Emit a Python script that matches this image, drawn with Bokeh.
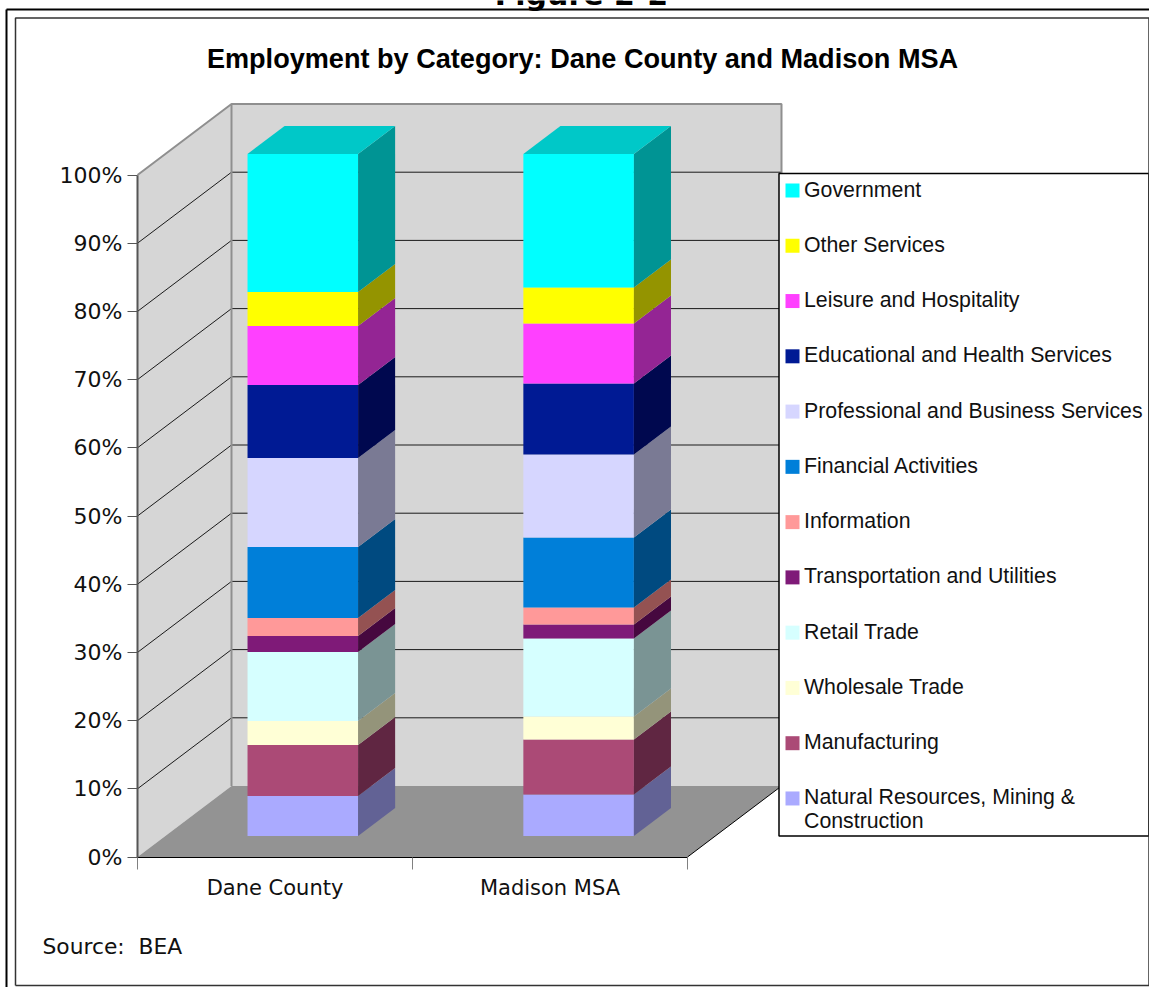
from bokeh.core.properties import value
from bokeh.embed import file_html
from bokeh.models import FixedTicker, Range1d
from bokeh.plotting import figure
from bokeh.resources import INLINE

# ---- data ----
categories = ["Dane County", "Madison MSA"]
series = ["Natural Resources, Mining &\nConstruction", "Manufacturing", "Wholesale Trade", "Retail Trade",
          "Transportation and Utilities", "Information", "Financial Activities",
          "Professional and Business Services", "Educational and Health Services",
          "Leisure and Hospitality", "Other Services", "Government"]
dane_values = [5.87, 7.48, 3.52, 10.12, 2.35, 2.64, 10.41, 13.05, 10.70, 8.65, 4.99, 20.22]
madison_values = [6.09, 8.06, 3.37, 11.44, 2.05, 2.49, 10.26, 12.17, 10.41, 8.80, 5.28, 19.58]
front_colors = ["#AAAAFF", "#AB4A76", "#FFFFD6", "#D6FFFF", "#7F1A78", "#FF9999",
                "#007FD9", "#D6D6FF", "#001A94", "#FF40FF", "#FFFF00", "#00FFFF"]
side_colors = ["#626295", "#602642", "#94947A", "#7A9494", "#46083F", "#945252",
               "#004A80", "#7A7A94", "#00084F", "#942594", "#949400", "#009494"]
top_color = "#00C8C8"
y_ticks = [0, 10, 20, 30, 40, 50, 60, 70, 80, 90, 100]
y_tick_labels = {t: f"{t}%" for t in y_ticks}
title = "Employment by Category: Dane County and Madison MSA"
source_note = "Source:\u00a0\u00a0BEA"
page_heading = "Figure 2-2"

# ---- layout ----
W, H = 1149, 987
X0, PX_PER_CAT = 137.0, 275.0
Y0, PX_PER_PCT = 856.5, 6.82
DEPTH_X, DEPTH_Y = 94.0, 71.0
BAR_CENTERS = [0.5, 1.503]
BAR_WIDTH = 0.402
BAR_D0, BAR_D1 = 21 / 71, 49 / 71


def xd(px):
    return (px - X0) / PX_PER_CAT


def yd(py):
    return (Y0 - py) / PX_PER_PCT


ddx = DEPTH_X / PX_PER_CAT
ddy = DEPTH_Y / PX_PER_PCT

p = figure(width=W, height=H, output_backend="svg", toolbar_location=None,
           x_range=Range1d(xd(0), xd(W)), y_range=Range1d(yd(H), yd(0)),
           min_border=0, min_border_left=0, min_border_right=0, min_border_top=0, min_border_bottom=0)
p.styles = {"position": "absolute", "left": "0px", "top": "0px"}
p.outline_line_color = None
p.grid.visible = False
p.background_fill_color = "white"
p.border_fill_color = "white"

# walls and floor
GRAY_EDGE = "#8F8F8F"
p.patch([0, ddx, ddx, 0], [0, ddy, 100 + ddy, 100], fill_color="#D6D6D6", line_color=None)
p.patch([ddx, 2 + ddx, 2 + ddx, ddx], [ddy, ddy, 100 + ddy, 100 + ddy], fill_color="#D6D6D6", line_color=None)
p.patch([0, 2, 2 + ddx, ddx], [0, 0, ddy, ddy], fill_color="#939393", line_color=None)

# gridlines
for t in y_ticks[1:-1]:
    p.line([0, ddx, 2 + ddx], [t, t + ddy, t + ddy], line_color="#1A1A1A", line_width=1)
p.line([0, ddx, 2 + ddx, 2 + ddx], [100, 100 + ddy, 100 + ddy, ddy], line_color=GRAY_EDGE, line_width=2)
p.line([ddx, ddx], [ddy, 100 + ddy], line_color=GRAY_EDGE, line_width=2)
p.line([2, 2 + ddx], [0, ddy], line_color="black", line_width=1)

# bars
for center, vals in zip(BAR_CENTERS, [dane_values, madison_values]):
    l = center - BAR_WIDTH / 2 + BAR_D0 * ddx
    r = l + BAR_WIDTH
    sx = (BAR_D1 - BAR_D0) * ddx
    sy = (BAR_D1 - BAR_D0) * ddy
    base = BAR_D0 * ddy
    for v, fc, sc in zip(vals, front_colors, side_colors):
        top = base + v
        p.quad(left=[l], right=[r], bottom=[base], top=[top], fill_color=fc, line_color=None)
        p.patch([r, r + sx, r + sx, r], [base, base + sy, top + sy, top], fill_color=sc, line_color=None)
        base = top
    p.patch([l, r, r + sx, l + sx], [base, base, base + sy, base + sy], fill_color=top_color, line_color=None)

# axes
ax = p.xaxis[0]
ax.fixed_location = 0
ax.bounds = (0, 2)
ax.ticker = FixedTicker(ticks=[0.5, 1.5], minor_ticks=[0, 1, 2])
ax.major_label_overrides = {0.5: categories[0], 1.5: categories[1]}
ax.major_tick_line_color = None
ax.minor_tick_in = 0
ax.minor_tick_out = 12
ax.minor_tick_line_color = "#808080"
ax.minor_tick_line_width = 1
ax.axis_line_color = "black"
ax.major_label_text_font = "DejaVu Sans"
ax.major_label_text_font_size = "21px"
ax.major_label_text_color = "#111111"
ax.major_label_standoff = 7

ay = p.yaxis[0]
ay.fixed_location = 0
ay.bounds = (0, 100)
ay.ticker = FixedTicker(ticks=y_ticks)
ay.major_label_overrides = y_tick_labels
ay.major_tick_in = 0
ay.major_tick_out = 10
ay.minor_tick_line_color = None
ay.major_tick_line_color = "#555555"
ay.axis_line_color = "#555555"
ay.axis_line_width = 2
ay.major_label_text_font = "DejaVu Sans"
ay.major_label_text_font_size = "22px"
ay.major_label_text_color = "#111111"
ay.major_label_standoff = 5

# legend panel
LEG_L, LEG_T, LEG_R, LEG_B = 778.5, 173, 1148.5, 835.5
p.quad(left=[xd(LEG_L)], right=[xd(LEG_R)], bottom=[yd(LEG_B)], top=[yd(LEG_T)],
       fill_color="white", line_color="black", line_width=1.5)
for i, (name, color) in enumerate(zip(reversed(series), reversed(front_colors))):
    cy = 190 + 55.27 * i
    p.quad(left=[xd(785)], right=[xd(799)], bottom=[yd(cy + 7)], top=[yd(cy - 7)], fill_color=color, line_color=None)
    for j, part in enumerate(name.split("\n")):
        p.text([xd(803.5)], [yd(cy - 1 + 24 * j)], text=[part], text_font=value("Liberation Sans"),
               text_font_size="21.3px", text_baseline="middle", text_align="left", text_color="#111111")

# title, notes
p.text([xd(582)], [yd(57.5)], text=[title], text_font=value("Liberation Sans"), text_font_style="bold",
       text_font_size="27.1px", text_baseline="middle", text_align="center", text_color="black")
p.text([xd(42)], [yd(945.5)], text=[source_note], text_font=value("DejaVu Sans"), text_font_size="21.8px",
       text_baseline="middle", text_align="left", text_color="#111111")
p.text([xd(581)], [yd(-6)], text=[page_heading], text_font=value("DejaVu Sans"), text_font_style="bold",
       text_font_size="30px", text_baseline="alphabetic", text_align="center", text_color="black")

# page frames
p.line([xd(6), xd(6)], [yd(H), yd(9)], line_color="black", line_width=2)
p.line([xd(6), xd(W)], [yd(9), yd(9)], line_color="black", line_width=2)
p.line([xd(15), xd(15), xd(1148.5), xd(1148.5), xd(15)], [yd(985), yd(17.5), yd(17.5), yd(985), yd(985)],
       line_color="#333333", line_width=1.5)

open("out.html", "w").write(file_html(p, INLINE))
